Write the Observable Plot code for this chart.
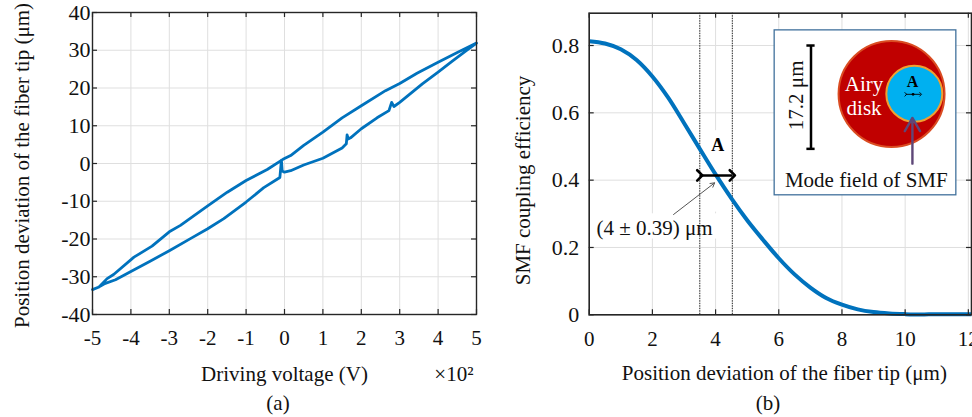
<!DOCTYPE html>
<html><head><meta charset="utf-8">
<script src="https://cdn.jsdelivr.net/npm/d3@7"></script>
<script src="https://cdn.jsdelivr.net/npm/@observablehq/plot@0.6"></script>
<style>
html,body{margin:0;padding:0;background:#fff;}
#fig{display:flex;width:972px;height:417px;overflow:hidden;background:#fff;}
#fig svg{display:block;flex:none;}
</style></head><body><div id="fig"></div>
<script>
// ---------------- Panel (a): hysteresis loop (x: driving voltage ×10² V, y: µm)
const riseV = [-5.0,-4.85,-4.7,-4.4,-4.0,-3.5,-3.0,-2.45,-2.0,-1.58,-1.0,-0.54,-0.12,-0.08,-0.06,0.0,0.16,0.5,1.0,1.5,1.61,1.63,1.66,1.72,2.0,2.41,2.72,2.79,2.85,3.0,3.59,4.0,4.37,4.76,5.0];
const riseD = [-33.4,-32.8,-31.9,-30.8,-28.6,-25.9,-23.1,-19.9,-17.3,-14.6,-10.2,-6.4,-3.7,0.9,-2.0,-2.3,-1.9,-0.4,1.4,4.1,5.2,7.6,6.5,6.8,9.2,12.1,14.0,16.2,15.1,16.2,21.1,24.2,27.1,30.1,31.9];
const fallV = [5.0,4.5,4.0,3.45,3.0,2.63,2.0,1.5,1.0,0.5,0.16,-0.04,-0.45,-1.0,-1.49,-2.0,-2.71,-3.0,-3.45,-3.92,-4.45,-4.62,-4.83,-5.0];
const fallD = [31.9,29.4,26.8,23.9,21.2,19.3,15.3,12.1,8.3,4.8,2.1,1.1,-1.6,-4.5,-7.6,-11.2,-16.4,-18.1,-21.9,-24.8,-29.4,-30.5,-32.7,-33.4];
const aXTicks = [-5,-4,-3,-2,-1,0,1,2,3,4,5];
const aYTicks = [-40,-30,-20,-10,0,10,20,30,40];

// ---------------- Panel (b): SMF coupling efficiency vs fiber-tip offset (µm)
const offsetUm   = [0,0.5,1,1.5,2,2.5,3,3.5,4,4.5,5,5.5,6,6.5,7,7.5,8,8.5,9,9.5,10,10.5,11,11.5,12,12.1];
const efficiency = [0.813,0.806,0.789,0.757,0.708,0.645,0.570,0.493,0.417,0.346,0.281,0.223,0.168,0.120,0.081,0.050,0.030,0.016,0.008,0.004,0.002,0.001,0.002,0.002,0.002,0.002];
const bXTicks = [0,2,4,6,8,10,12];
const bYTicks = [0,0.2,0.4,0.6,0.8];
const windowEdges = [3.5, 4.53];   // dotted lines around 4 ± 0.39 µm

const FONT = "'Liberation Serif','Times New Roman',Times,serif";
const INK = "#262626", GRID = "#dfdfdf", BLUE = "#0072BD";
const H = 417;
const fmt = d => String(d);

// ---------- Panel (a)
const mA = {top:12, right:14, bottom:103, left:92};
const W_A = 490;
const innerHA = H - mA.top - mA.bottom, innerWA = W_A - mA.left - mA.right;
const loop = [
  ...riseV.map((v,i)=>({v, d:riseD[i]})),
  ...fallV.map((v,i)=>({v, d:fallD[i]}))
];
const plotA = Plot.plot({
  width: W_A, height: H,
  marginTop: mA.top, marginRight: mA.right, marginBottom: mA.bottom, marginLeft: mA.left,
  style: {fontFamily: FONT, fontSize: "21px", color: "#111", background: "#fff", overflow: "visible"},
  marks: [
    Plot.ruleX(aXTicks, {x: d=>d, stroke: GRID, strokeWidth: 1}),
    Plot.ruleY(aYTicks, {y: d=>d, stroke: GRID, strokeWidth: 1}),
    Plot.axisX(aXTicks, {tickSize: 0, tickPadding: 16, tickFormat: fmt, fontSize: 21, label: null}),
    Plot.axisY(aYTicks, {tickSize: 0, tickPadding: 2, tickFormat: fmt, fontSize: 22, label: null}),
    Plot.line(loop, {x: "v", y: "d", stroke: BLUE, strokeWidth: 2.8, strokeLinejoin: "round", strokeLinecap: "round"}),
    Plot.tickX(aXTicks, {x: d=>d, insetTop: innerHA-5, stroke: INK, strokeWidth: 1.2}),
    Plot.tickX(aXTicks, {x: d=>d, insetBottom: innerHA-5, stroke: INK, strokeWidth: 1.2}),
    Plot.tickY(aYTicks, {y: d=>d, insetRight: innerWA-5, stroke: INK, strokeWidth: 1.2}),
    Plot.tickY(aYTicks, {y: d=>d, insetLeft: innerWA-5, stroke: INK, strokeWidth: 1.2}),
    Plot.frame({stroke: INK, strokeWidth: 1.4}),
    Plot.text(["Position deviation of the fiber tip (μm)"], {text: d=>d, frameAnchor: "left", textAnchor: "middle", lineAnchor: "middle", rotate: -90, dx: -70, dy: 2, fontSize: 21, fill: "#111"}),
    Plot.text(["Driving voltage (V)"], {text: d=>d, frameAnchor: "bottom", textAnchor: "middle", lineAnchor: "bottom", dy: 66, fontSize: 21, fill: "#111"}),
    Plot.text(["×10²"], {text: d=>d, frameAnchor: "bottom-right", textAnchor: "end", lineAnchor: "bottom", dx: -3, dy: 66, fontSize: 21, fill: "#111"}),
    Plot.text(["(a)"], {text: d=>d, frameAnchor: "bottom", textAnchor: "middle", lineAnchor: "bottom", dx: -6.5, dy: 95, fontSize: 21, fill: "#111"})
  ],
  x: {domain: [-5,5], axis: null},
  y: {domain: [-40,40], axis: null}
});

// ---------- Panel (b)
const mB = {top:12.7, right:1, bottom:102.7, left:98.7};
const W_B = 482;
const innerHB = H - mB.top - mB.bottom, innerWB = W_B - mB.left - mB.right;
const curve = offsetUm.map((x,i)=>({x, y: efficiency[i]}));
const masks = [
  {x1: 3.52, x2: 4.51, y1: 0.305, y2: 0.547},
  {x1: 0.25, x2: 4.15, y1: 0.225, y2: 0.300}
];
const spanArrow = {x1: windowEdges[0], x2: windowEdges[1], y: 0.414};
const pointer = {x1: 2.67, y1: 0.298, x2: 3.97, y2: 0.392};
const inset = {x1: 5.87, x2: 11.62, y1: 0.355, y2: 0.845};
const airy = {x: 9.57, y: 0.656};
const mode = {x: 10.29, y: 0.657};
const scaleBar = {x: 7.02, y1: 0.493, y2: 0.800};

const plotB = Plot.plot({
  width: W_B, height: H,
  marginTop: mB.top, marginRight: mB.right, marginBottom: mB.bottom, marginLeft: mB.left,
  style: {fontFamily: FONT, fontSize: "21px", color: "#111", background: "#fff", overflow: "visible"},
  x: {domain: [0,12.1], axis: null},
  y: {domain: [0,0.896], axis: null},
  marks: [
    Plot.ruleX(bXTicks, {x: d=>d, stroke: GRID, strokeWidth: 1}),
    Plot.ruleY(bYTicks, {y: d=>d, stroke: GRID, strokeWidth: 1}),
    Plot.axisX(bXTicks, {tickSize: 0, tickPadding: 16, tickFormat: fmt, fontSize: 21, label: null}),
    Plot.axisY(bYTicks, {tickSize: 0, tickPadding: 10, tickFormat: fmt, fontSize: 22, label: null}),
    Plot.rect(masks, {x1: "x1", x2: "x2", y1: "y1", y2: "y2", fill: "#fff"}),
    Plot.ruleX(windowEdges, {x: d=>d, stroke: "#222", strokeWidth: 1, strokeDasharray: "1.5,1"}),
    Plot.line(curve, {x: "x", y: "y", stroke: BLUE, strokeWidth: 4, curve: "monotone-x", strokeLinecap: "butt"}),
    Plot.link([spanArrow], {x1: "x1", x2: "x2", y1: "y", y2: "y", stroke: "#000", strokeWidth: 2.6, markerStart: "arrow", markerEnd: "arrow"}),
    Plot.text(["A"], {text: d=>d, x: 4.07, y: 0.503, fontSize: 18, fontWeight: "bold", fill: "#000", textAnchor: "middle", lineAnchor: "middle"}),
    Plot.arrow([pointer], {x1: "x1", y1: "y1", x2: "x2", y2: "y2", stroke: "#555", strokeWidth: 1, headLength: 7}),
    Plot.text(["(4 ± 0.39) μm"], {text: d=>d, x: 2.07, y: 0.236, fontSize: 21, fill: "#111", textAnchor: "middle", lineAnchor: "bottom"}),
    // inset
    Plot.rect([inset], {x1: "x1", x2: "x2", y1: "y1", y2: "y2", fill: "#fff", stroke: "#41719C", strokeWidth: 1.3}),
    Plot.ruleX([scaleBar], {x: "x", y1: "y1", y2: "y2", stroke: "#000", strokeWidth: 2.5}),
    Plot.ruleY([scaleBar.y1, scaleBar.y2], {y: d=>d, x1: scaleBar.x - 0.13, x2: scaleBar.x + 0.13, stroke: "#000", strokeWidth: 2.5}),
    Plot.text(["17.2 μm"], {text: d=>d, x: 6.55, y: 0.652, rotate: -90, fontSize: 21, fill: "#111", textAnchor: "middle", lineAnchor: "middle"}),
    Plot.dot([airy], {x: "x", y: "y", r: 53, fill: "#C00000", stroke: "#DA4C22", strokeWidth: 2}),
    Plot.dot([mode], {x: "x", y: "y", r: 28, fill: "#00B0F0", stroke: "#F0A030", strokeWidth: 2}),
    Plot.text(["Airy\ndisk"], {text: d=>d, x: 8.70, y: 0.651, fontSize: 21, fill: "#fff", lineHeight: 1.12, textAnchor: "middle", lineAnchor: "middle"}),
    Plot.text(["A"], {text: d=>d, x: 10.23, y: 0.692, fontSize: 16, fontWeight: "bold", fill: "#000", textAnchor: "middle", lineAnchor: "middle"}),
    Plot.link([{x1: 10.02, x2: 10.49, y: 0.655}], {x1: "x1", x2: "x2", y1: "y", y2: "y", stroke: "#000", strokeWidth: 0.9, markerStart: "arrow", markerEnd: "arrow"}),
    Plot.dot([{x: 10.25, y: 0.655}], {x: "x", y: "y", r: 1.4, fill: "#000"}),
    Plot.arrow([{x1: 10.23, y1: 0.449, x2: 10.23, y2: 0.585}], {x1: "x1", y1: "y1", x2: "x2", y2: "y2", stroke: "#5E4778", strokeWidth: 2.4, headLength: 10}),
    Plot.text(["Mode field of SMF"], {text: d=>d, x: 8.77, y: 0.379, fontSize: 21, fill: "#111", textAnchor: "middle", lineAnchor: "bottom"}),
    // ticks + frame
    Plot.tickX(bXTicks, {x: d=>d, insetTop: innerHB-5, stroke: INK, strokeWidth: 1.2}),
    Plot.tickX(bXTicks, {x: d=>d, insetBottom: innerHB-5, stroke: INK, strokeWidth: 1.2}),
    Plot.tickY(bYTicks, {y: d=>d, insetRight: innerWB-5, stroke: INK, strokeWidth: 1.2}),
    Plot.tickY(bYTicks, {y: d=>d, insetLeft: innerWB-5, stroke: INK, strokeWidth: 1.2}),
    Plot.frame({stroke: INK, strokeWidth: 1.6}),
    Plot.text(["SMF coupling efficiency"], {text: d=>d, frameAnchor: "left", textAnchor: "middle", lineAnchor: "middle", rotate: -90, dx: -66, dy: 16.5, fontSize: 21, fill: "#111"}),
    Plot.text(["Position deviation of the fiber tip (μm)"], {text: d=>d, frameAnchor: "bottom", textAnchor: "middle", lineAnchor: "bottom", dx: 4, dy: 65, fontSize: 21, fill: "#111"}),
    Plot.text(["(b)"], {text: d=>d, frameAnchor: "bottom", textAnchor: "middle", lineAnchor: "bottom", dx: -12.4, dy: 95, fontSize: 21, fill: "#111"})
  ]
});

const fig = document.getElementById("fig");
fig.appendChild(plotA);
fig.appendChild(plotB);
</script>
</body></html>
